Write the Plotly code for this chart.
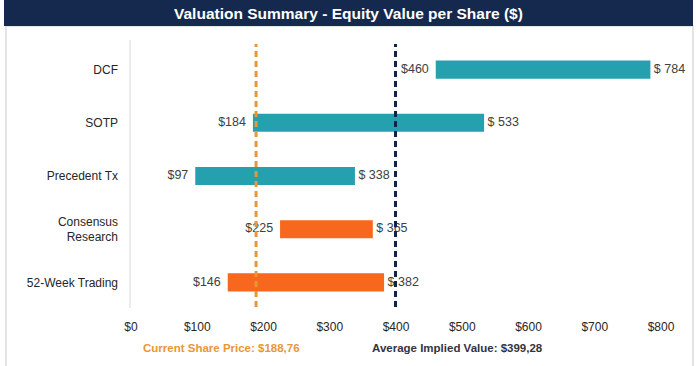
import plotly.graph_objects as go

categories = ["DCF", "SOTP", "Precedent Tx", "Consensus<br>Research", "52-Week Trading"]
low_values = [460, 184, 97, 225, 146]
high_values = [784, 533, 338, 365, 382]
bar_colors = ["#24A0AF", "#24A0AF", "#24A0AF", "#F7671E", "#F7671E"]
current_price = 188.76
avg_implied = 399.28
tick_vals = [0, 100, 200, 300, 400, 500, 600, 700, 800]
tick_text = ["$0", "$100", "$200", "$300", "$400", "$500", "$600", "$700", "$800"]

W, H = 700, 366
L, R, T, B = 131, 39, 43, 57
pw, ph = W - L - R, H - T - B

def px_x(x):
    return (x - L) / pw

def px_y(y):
    return (H - B - y) / ph

FONT = "Liberation Sans Narrow, Arial Narrow, Liberation Sans, Arial"
TXT = "#404040"

fig = go.Figure()
fig.add_trace(go.Bar(
    y=categories, x=[h - l for h, l in zip(high_values, low_values)], base=low_values,
    orientation="h", marker=dict(color=bar_colors, line=dict(width=0)),
    width=0.34, hoverinfo="skip", showlegend=False,
))
fig.add_trace(go.Scatter(
    y=categories, x=low_values, mode="text",
    text=[f"${v}  " for v in low_values], textposition="middle left",
    textfont=dict(family=FONT, size=12.5, color=TXT), showlegend=False, cliponaxis=False,
))
fig.add_trace(go.Scatter(
    y=categories, x=high_values, mode="text",
    text=[f" $ {v}" for v in high_values], textposition="middle right",
    textfont=dict(family=FONT, size=12.5, color=TXT), showlegend=False, cliponaxis=False,
))

shapes = [
    dict(type="rect", xref="paper", yref="paper", x0=px_x(6), x1=px_x(693), y0=px_y(372), y1=px_y(26),
         line=dict(color="#DCDCDC", width=1.5), fillcolor="white", layer="below"),
    dict(type="rect", xref="paper", yref="paper", x0=px_x(4), x1=px_x(693), y0=px_y(26), y1=px_y(0),
         line=dict(width=0), fillcolor="#14294D", layer="below"),
    dict(type="line", xref="paper", yref="paper", x0=px_x(130), x1=px_x(130), y0=px_y(308), y1=px_y(40),
         line=dict(color="#D9D9D9", width=1), layer="below"),
    dict(type="line", xref="x", yref="paper", x0=current_price, x1=current_price, y0=px_y(307), y1=px_y(44),
         line=dict(color="#E8963A", width=3, dash="6px,4px"), layer="above"),
    dict(type="line", xref="x", yref="paper", x0=avg_implied, x1=avg_implied, y0=px_y(307), y1=px_y(44),
         line=dict(color="#0E2346", width=3, dash="6px,4px"), layer="above"),
]

annotations = [
    dict(text="<b>Valuation Summary - Equity Value per Share ($)</b>", xref="paper", yref="paper",
         x=px_x(348), y=px_y(14), xanchor="center", yanchor="middle", showarrow=False,
         font=dict(family=FONT, size=15.5, color="white")),
    dict(text=f"<b>Current Share Price: ${current_price:.2f}</b>".replace(".", ","), xref="paper", yref="paper",
         x=px_x(221), y=px_y(348), xanchor="center", yanchor="middle", showarrow=False,
         font=dict(family=FONT, size=11.5, color="#E8963A")),
    dict(text=f"<b>Average Implied Value: ${avg_implied:.2f}</b>".replace(".", ","), xref="paper", yref="paper",
         x=px_x(457), y=px_y(348), xanchor="center", yanchor="middle", showarrow=False,
         font=dict(family=FONT, size=11.5, color="#333340")),
]

fig.update_layout(
    width=W, height=H, margin=dict(l=L, r=R, t=T, b=B, pad=0, autoexpand=False),
    paper_bgcolor="white", plot_bgcolor="rgba(0,0,0,0)",
    shapes=shapes, annotations=annotations,
    xaxis=dict(range=[0, 800], tickvals=tick_vals, ticktext=tick_text, showgrid=False, zeroline=False,
               showline=False, ticks="", tickfont=dict(family=FONT, size=12, color="#262626"), ticklabelstandoff=9,
               fixedrange=True, automargin=False),
    yaxis=dict(categoryorder="array", categoryarray=categories, autorange="reversed",
               showgrid=False, zeroline=False, showline=False, ticks="",
               tickfont=dict(family=FONT, size=12, color="#262626"), ticklabelstandoff=12, fixedrange=True,
               automargin=False),
    font=dict(family=FONT),
)

fig.write_html("out.html", config={"displayModeBar": False},
               post_script="document.body.style.margin='0';document.body.style.overflow='hidden';")
